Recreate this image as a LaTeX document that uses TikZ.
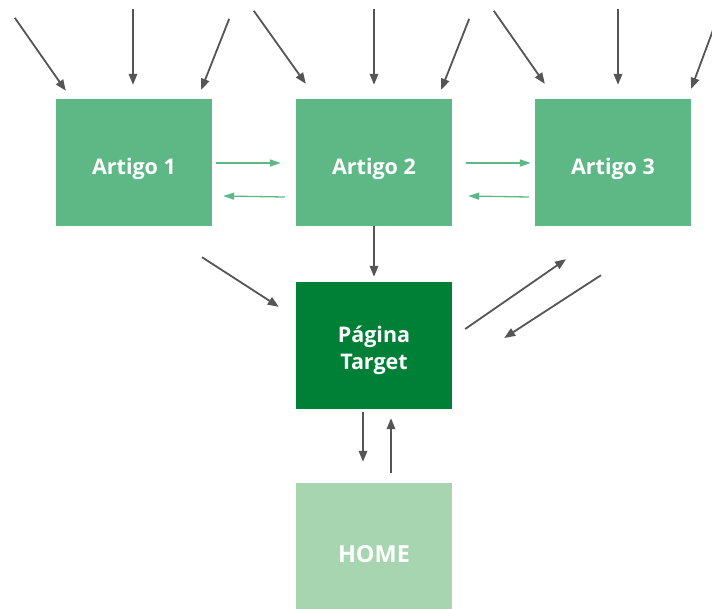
\documentclass[tikz,border=0pt]{standalone}
\usepackage{fontspec}
\setmainfont{Open Sans}
\usetikzlibrary{arrows.meta,positioning,calc}
\definecolor{artgreen}{RGB}{94,184,134}
\definecolor{darkgreen}{RGB}{0,128,55}
\definecolor{lightgreen}{RGB}{166,213,175}
\definecolor{arrgray}{RGB}{85,85,85}

\tikzset{
  page/.style={fill=#1, text=white, minimum width=156pt, minimum height=127pt,
    inner sep=0pt, font=\bfseries\fontsize{21.5}{26.7}\selectfont},
  single/.style={text height=24pt, text depth=0pt},
  link/.style={draw=arrgray, line width=1.8pt, -{Triangle[length=11pt,width=8.5pt]}},
  nav/.style={draw=artgreen, line width=1.3pt, -{Triangle[length=11pt,width=7pt]}}
}

\begin{document}
\begin{tikzpicture}[x=1pt,y=-1pt]
\useasboundingbox (0,0) rectangle (712,608);
\clip (0,0) rectangle (712,608);

% Pages
\node[page=artgreen, single] (art1) at (134,162.5) {Artigo 1};
\node[page=artgreen, single] (art2) at (374,162.5) {Artigo 2};
\node[page=artgreen, single] (art3) at (613,162.5) {Artigo 3};
\node[page=darkgreen, align=center, text height=47pt, text depth=0pt] (target) at (374,345.5) {Página\\Target};
\node[page=lightgreen, single, minimum height=134pt, font=\bfseries\fontsize{23.5}{28}\selectfont] (home) at (374,550) {HOME};

% Incoming links
\draw[link] ($(art1.north west)+(-41,-81)$) -- ($(art1.north west)+(10,-8)$);
\draw[link] ($(art1.north)+(-1,-90)$) -- ($(art1.north)+(-1,-14)$);
\draw[link] ($(art1.north east)+(17,-80)$) -- ($(art1.north east)+(-11,-9)$);
\draw[link] ($(art2.north west)+(-42,-88)$) -- ($(art2.north west)+(10,-15)$);
\draw[link] ($(art2.north)+(0,-90)$) -- ($(art2.north)+(0,-14)$);
\draw[link] ($(art2.north east)+(17,-80)$) -- ($(art2.north east)+(-11,-9)$);
\draw[link] ($(art3.north west)+(-41,-88)$) -- ($(art3.north west)+(10,-15)$);
\draw[link] ($(art3.north)+(5,-90)$) -- ($(art3.north)+(5,-14)$);
\draw[link] ($(art3.north east)+(26,-80)$) -- ($(art3.north east)+(0,-10)$);

% Links between articles
\draw[nav] ($(art1.east)+(4,0.5)$) -- ($(art2.west)+(-15,0.5)$);
\draw[nav] ($(art2.west)+(-11,34.5)$) -- ($(art1.east)+(11,33.5)$);
\draw[nav] ($(art2.east)+(14,0.5)$) -- ($(art3.west)+(-4,0.5)$);
\draw[nav] ($(art3.west)+(-6,34.5)$) -- ($(art2.east)+(16,33.5)$);

% Links to the target page
\draw[link] ($(art1.south)+(68,31)$) -- ($(target.north west)+(-17,25)$);
\draw[link] (art2.south) -- ($(target.north)+(0,-5)$);
\draw[link] ($(target.east)+(13,-16.5)$) -- ($(art3.south)+(-47,33)$);
\draw[link] ($(art3.south)+(-12,49)$) -- ($(target.east)+(52,-7.5)$);

% Target and home
\draw[link] ($(target.south)+(-11,3)$) -- ($(home.north)+(-11,-21)$);
\draw[link] ($(home.north)+(17,-10)$) -- ($(target.south)+(17,9)$);
\end{tikzpicture}
\end{document}
